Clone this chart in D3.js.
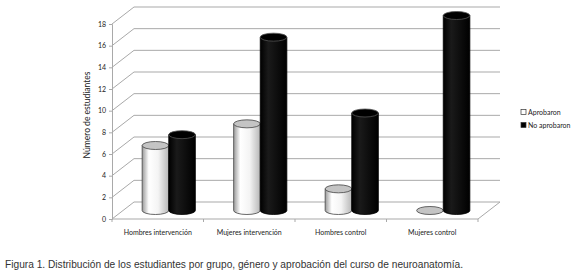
<!DOCTYPE html>
<html>
<head>
<meta charset="utf-8">
<script src="https://cdn.jsdelivr.net/npm/d3@7"></script>
<style>
  body { margin: 0; background: #fff; }
  svg { display: block; }
</style>
</head>
<body>
<div id="chart"></div>
<script>
// Data
const categories = ["Hombres intervención", "Mujeres intervención", "Hombres control", "Mujeres control"];
const series = ["Aprobaron", "No aprobaron"];
const aprobaron = [6, 8, 2, 0];
const noAprobaron = [7, 16, 9, 18];
const yTicks = [0, 2, 4, 6, 8, 10, 12, 14, 16, 18];

// Layout
const W = 580, H = 277;
const PLOT = { left: 112, right: 478, top: 24, bottom: 219 };
const DEPTH = { dx: 22, dy: -17 };
const RY = 4;

const svg = d3.select("#chart").append("svg")
  .attr("width", W)
  .attr("height", H);

const defs = svg.append("defs");
const gw = defs.append("linearGradient").attr("id", "gWhite");
gw.append("stop").attr("offset", "0%").attr("stop-color", "#9a9a9a");
gw.append("stop").attr("offset", "25%").attr("stop-color", "#ffffff");
gw.append("stop").attr("offset", "60%").attr("stop-color", "#f4f4f4");
gw.append("stop").attr("offset", "100%").attr("stop-color", "#b8b8b8");
const gb = defs.append("linearGradient").attr("id", "gBlack");
gb.append("stop").attr("offset", "0%").attr("stop-color", "#000");
gb.append("stop").attr("offset", "30%").attr("stop-color", "#1a1a1a");
gb.append("stop").attr("offset", "100%").attr("stop-color", "#000");

// Scales
const x0 = d3.scaleBand()
  .domain(categories)
  .range([PLOT.left, PLOT.right]);

const x1 = d3.scaleBand()
  .domain(series)
  .range([0, x0.bandwidth()])
  .paddingInner(0)
  .paddingOuter(0.72);

const y = d3.scaleLinear()
  .domain([0, 18])
  .range([PLOT.bottom, PLOT.top]);

const grid = "#a9a9a9";
const labelFont = "Lato, 'Liberation Sans', sans-serif";

// Back wall gridlines + diagonal side wall
const gridG = svg.append("g");
yTicks.forEach(t => {
  gridG.append("line")
    .attr("x1", PLOT.left + DEPTH.dx).attr("x2", PLOT.right + DEPTH.dx)
    .attr("y1", y(t) + DEPTH.dy).attr("y2", y(t) + DEPTH.dy)
    .attr("stroke", grid).attr("stroke-width", 1);
  gridG.append("line")
    .attr("x1", PLOT.left).attr("x2", PLOT.left + DEPTH.dx)
    .attr("y1", y(t)).attr("y2", y(t) + DEPTH.dy)
    .attr("stroke", grid).attr("stroke-width", 1);
});

// Floor front edge and right diagonal
gridG.append("line")
  .attr("x1", PLOT.left).attr("x2", PLOT.right)
  .attr("y1", y(0)).attr("y2", y(0))
  .attr("stroke", grid);
gridG.append("line")
  .attr("x1", PLOT.right).attr("x2", PLOT.right + DEPTH.dx)
  .attr("y1", y(0)).attr("y2", y(0) + DEPTH.dy)
  .attr("stroke", grid);

// Y axis
const yAxis = d3.axisLeft(y).tickValues(yTicks).tickSize(3).tickPadding(3);
svg.append("g")
  .attr("transform", `translate(${PLOT.left},0)`)
  .call(yAxis)
  .call(g => g.select(".domain").attr("stroke", grid))
  .call(g => g.selectAll(".tick line").attr("stroke", grid))
  .call(g => g.selectAll(".tick text")
    .attr("font-family", labelFont)
    .attr("font-size", 7)
    .attr("fill", "#222"));

// Category ticks on the floor edge
const bounds = categories.map(c => x0(c)).concat([PLOT.right]);
svg.append("g").selectAll("line")
  .data(bounds)
  .join("line")
  .attr("x1", d => d).attr("x2", d => d)
  .attr("y1", y(0)).attr("y2", y(0) + 3)
  .attr("stroke", grid);

// Category labels
svg.append("g").selectAll("text")
  .data(categories)
  .join("text")
  .attr("x", d => x0(d) + x0.bandwidth() / 2)
  .attr("y", 235)
  .attr("text-anchor", "middle")
  .attr("font-family", labelFont)
  .attr("font-size", 7)
  .attr("fill", "#222")
  .text(d => d);

// Cylinders (placed at mid depth)
const rows = [];
categories.forEach((c, i) => {
  rows.push({ cat: c, s: series[0], v: aprobaron[i] });
  rows.push({ cat: c, s: series[1], v: noAprobaron[i] });
});

const midX = DEPTH.dx / 2, midY = DEPTH.dy / 2;

const cyl = svg.append("g").selectAll("g")
  .data(rows)
  .join("g")
  .attr("transform", d => `translate(${x0(d.cat) + x1(d.s) + midX},0)`);

cyl.each(function(d) {
  const g = d3.select(this);
  const w = x1.bandwidth();
  const rx = w / 2;
  const yb = y(0) + midY;
  const yt = y(d.v) + midY;
  const white = d.s === series[0];
  if (d.v > 0) {
    const p = `M0,${yt} L0,${yb} A${rx},${RY} 0 0 0 ${w},${yb} L${w},${yt} Z`;
    g.append("path")
      .attr("d", p)
      .attr("fill", white ? "url(#gWhite)" : "url(#gBlack)")
      .attr("stroke", white ? "#444" : "#000")
      .attr("stroke-width", 0.8);
  }
  g.append("ellipse")
    .attr("cx", rx).attr("cy", yt)
    .attr("rx", rx).attr("ry", RY)
    .attr("fill", white ? "#c4c4c4" : "#000")
    .attr("stroke", white ? "#444" : "#555")
    .attr("stroke-width", 0.8);
});

// Y axis title
svg.append("text")
  .attr("transform", "translate(90,115) rotate(-90)")
  .attr("text-anchor", "middle")
  .attr("font-family", labelFont)
  .attr("font-size", 8.5)
  .attr("fill", "#222")
  .text("Número de estudiantes");

// Legend
const legend = svg.append("g").attr("transform", "translate(521,112)");
series.forEach((s, i) => {
  const row = legend.append("g").attr("transform", `translate(0,${i * 13})`);
  row.append("rect")
    .attr("x", 0).attr("y", -2.5)
    .attr("width", 5).attr("height", 5)
    .attr("fill", i === 0 ? "#fff" : "#000")
    .attr("stroke", "#333").attr("stroke-width", 0.7);
  row.append("text")
    .attr("x", 7).attr("y", 2.5)
    .attr("font-family", labelFont)
    .attr("font-size", 7)
    .attr("fill", "#222")
    .text(s);
});

// Caption
svg.append("text")
  .attr("x", 5).attr("y", 268)
  .attr("font-family", "'Liberation Sans', Arial, sans-serif")
  .attr("font-size", 11.5)
  .attr("fill", "#333")
  .attr("textLength", 458)
  .attr("lengthAdjust", "spacingAndGlyphs")
  .text("Figura 1. Distribución de los estudiantes por grupo, género y aprobación del curso de neuroanatomía.");
</script>
</body>
</html>
